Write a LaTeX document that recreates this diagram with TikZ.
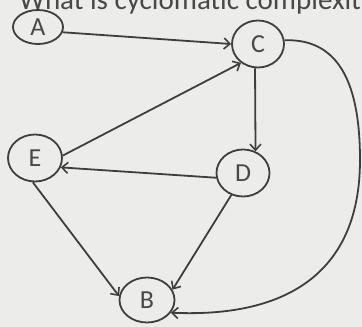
\documentclass[tikz,border=0pt]{standalone}
\usepackage{fontspec}
\setmainfont{Carlito}
\usetikzlibrary{shapes.geometric,arrows.meta}
\definecolor{paper}{RGB}{236,236,234}
\definecolor{ink}{RGB}{62,62,62}
\definecolor{txt}{RGB}{72,72,72}
\tikzset{
  vert/.style={ellipse,draw=ink,line width=1.8pt,inner sep=0pt,text=txt,
    font=\fontsize{26}{30}\selectfont},
  arr/.style={draw=ink,line width=1.8pt,-{Straight Barb[length=6pt,width=11pt,line width=1.6pt]}}
}
\begin{document}
\begin{tikzpicture}[x=1pt,y=-1pt]
\fill[paper] (0,0) rectangle (362,327);
\useasboundingbox (0,0) rectangle (362,327);
\node[anchor=base west,text=txt,font=\fontsize{29}{32}\selectfont,inner sep=0pt] (title) at (19,9.5) {What is cyclomatic complexity};
\node[vert,minimum width=50pt,minimum height=34pt] (A) at (38,27) {A};
\node[vert,minimum width=52pt,minimum height=47pt] (C) at (258,44) {C};
\node[vert,minimum width=54pt,minimum height=47pt] (E) at (35,158) {E};
\node[vert,minimum width=53pt,minimum height=47pt] (D) at (243,173) {D};
\node[vert,minimum width=55pt,minimum height=45pt] (B) at (147,300) {B};
\draw[arr] (A.-12) -- (C.west);
\draw[arr] (E.5) -- (C.-132);
\draw[arr] (C.-97) -- (D.60);
\draw[arr] (D.190) -- (E.-20);
\draw[arr] (E.-95) -- (B.172);
\draw[arr] (D.-118) -- (B.22);
\draw[arr] (C.8) .. controls (345,38) and (360,95) .. (360,160) .. controls (360,270) and (290,318) .. (B.-28);
\end{tikzpicture}
\end{document}
